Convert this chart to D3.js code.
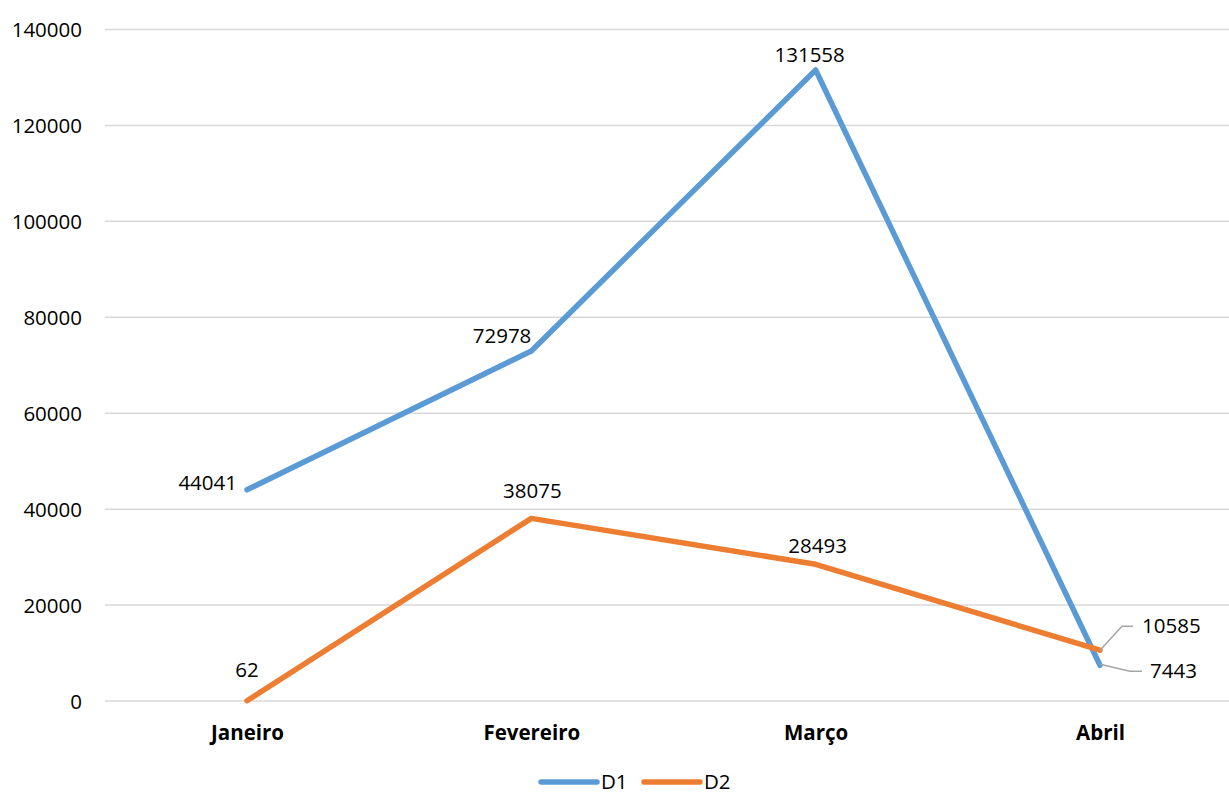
<!DOCTYPE html>
<html><head><meta charset="utf-8">
<script src="https://cdn.jsdelivr.net/npm/d3@7/dist/d3.min.js"></script>
<style>
html,body{margin:0;padding:0;background:#fff;overflow:hidden}
text{font-family:"Open Sans","Liberation Sans",sans-serif;fill:#000}
</style></head><body>
<svg id="chart" width="1229" height="795"></svg>
<script>
const categories = ["Janeiro","Fevereiro","Março","Abril"];
const d1Values = [44041, 72978, 131558, 7443];
const d2Values = [62, 38075, 28493, 10585];
const yTicks = [0,20000,40000,60000,80000,100000,120000,140000];
const seriesNames = ["D1","D2"];
const colors = ["#5B9BD5","#ED7D31"];

// label placement offsets (style only)
const d1LabelPos = [{dx:-10,dy:0,anchor:"end"},{dx:0,dy:-8,anchor:"end"},{dx:-6,dy:-8,anchor:"middle"},{leader:true,dx:42,dy:14,anchor:"start"}];
const d2LabelPos = [{dx:0,dy:-24,anchor:"middle"},{dx:1,dy:-20,anchor:"middle"},{dx:2,dy:-11,anchor:"middle"},{leader:true,dx:42,dy:-16,anchor:"start"}];

const svg = d3.select("#chart");
const x = d3.scalePoint().domain(categories).range([247,1100]);
const y = d3.scaleLinear().domain([0,140000]).range([701,29.5]);

const fs = 20.5;
// gridlines
svg.append("g").selectAll("line").data(yTicks).join("line")
  .attr("x1",105).attr("x2",1242)
  .attr("y1",d=>y(d)).attr("y2",d=>y(d))
  .attr("stroke","#D9D9D9").attr("stroke-width",1.5);

// y axis labels
const yAxis = d3.axisLeft(y).tickValues(yTicks).tickSize(0).tickPadding(0).tickFormat(d3.format("d"));
const ya = svg.append("g").attr("transform","translate(82,0)").call(yAxis);
ya.select(".domain").remove();
ya.selectAll("text").attr("font-size",fs).attr("font-family","'Open Sans',sans-serif").attr("fill","#000").attr("dy","0.35em");

// x axis labels
const xAxis = d3.axisBottom(x).tickSize(0).tickPadding(0);
const xa = svg.append("g").attr("transform","translate(0,725)").call(xAxis);
xa.select(".domain").remove();
xa.selectAll("text").attr("font-size",fs).attr("font-weight","bold").attr("font-family","'Open Sans',sans-serif").attr("fill","#000").attr("dy","0.72em");

const line = d3.line().x((d,i)=>x(categories[i])).y(d=>y(d));
const all = [d1Values,d2Values];
const positions = [d1LabelPos,d2LabelPos];

all.forEach((vals,s)=>{
  svg.append("path").datum(vals).attr("d",line)
    .attr("fill","none").attr("stroke",colors[s]).attr("stroke-width",5.5)
    .attr("stroke-linecap","round").attr("stroke-linejoin","round");
});

all.forEach((vals,s)=>{
  vals.forEach((v,i)=>{
    const px = x(categories[i]), py = y(v), p = positions[s][i];
    if(p.leader){
      const elbowX = s===0 ? px+30 : px+22;
      const elbowY = s===0 ? py+6 : py-24;
      svg.append("path")
        .attr("d",`M${px},${py-(s===0?1:0)}L${elbowX},${elbowY}L${elbowX+ (s===0?12:11)},${elbowY}`)
        .attr("fill","none").attr("stroke","#A6A6A6").attr("stroke-width",1.5);
      svg.append("text").attr("x",elbowX+20).attr("y",elbowY).attr("dy","0.35em")
        .attr("font-size",fs).attr("text-anchor","start").text(v);
    } else {
      svg.append("text").attr("x",px+p.dx).attr("y",py+p.dy)
        .attr("font-size",fs).attr("text-anchor",p.anchor).text(v);
    }
  });
});

// legend
const lg = svg.append("g");
const legendX = [541,644];
const legendY = 782;
seriesNames.forEach((n,i)=>{
  lg.append("line").attr("x1",legendX[i]).attr("x2",legendX[i]+56).attr("y1",legendY).attr("y2",legendY)
    .attr("stroke",colors[i]).attr("stroke-width",5.5).attr("stroke-linecap","round");
  lg.append("text").attr("x",legendX[i]+60).attr("y",legendY).attr("dy","0.35em").attr("font-size",fs).text(n);
});
</script>
</body></html>
